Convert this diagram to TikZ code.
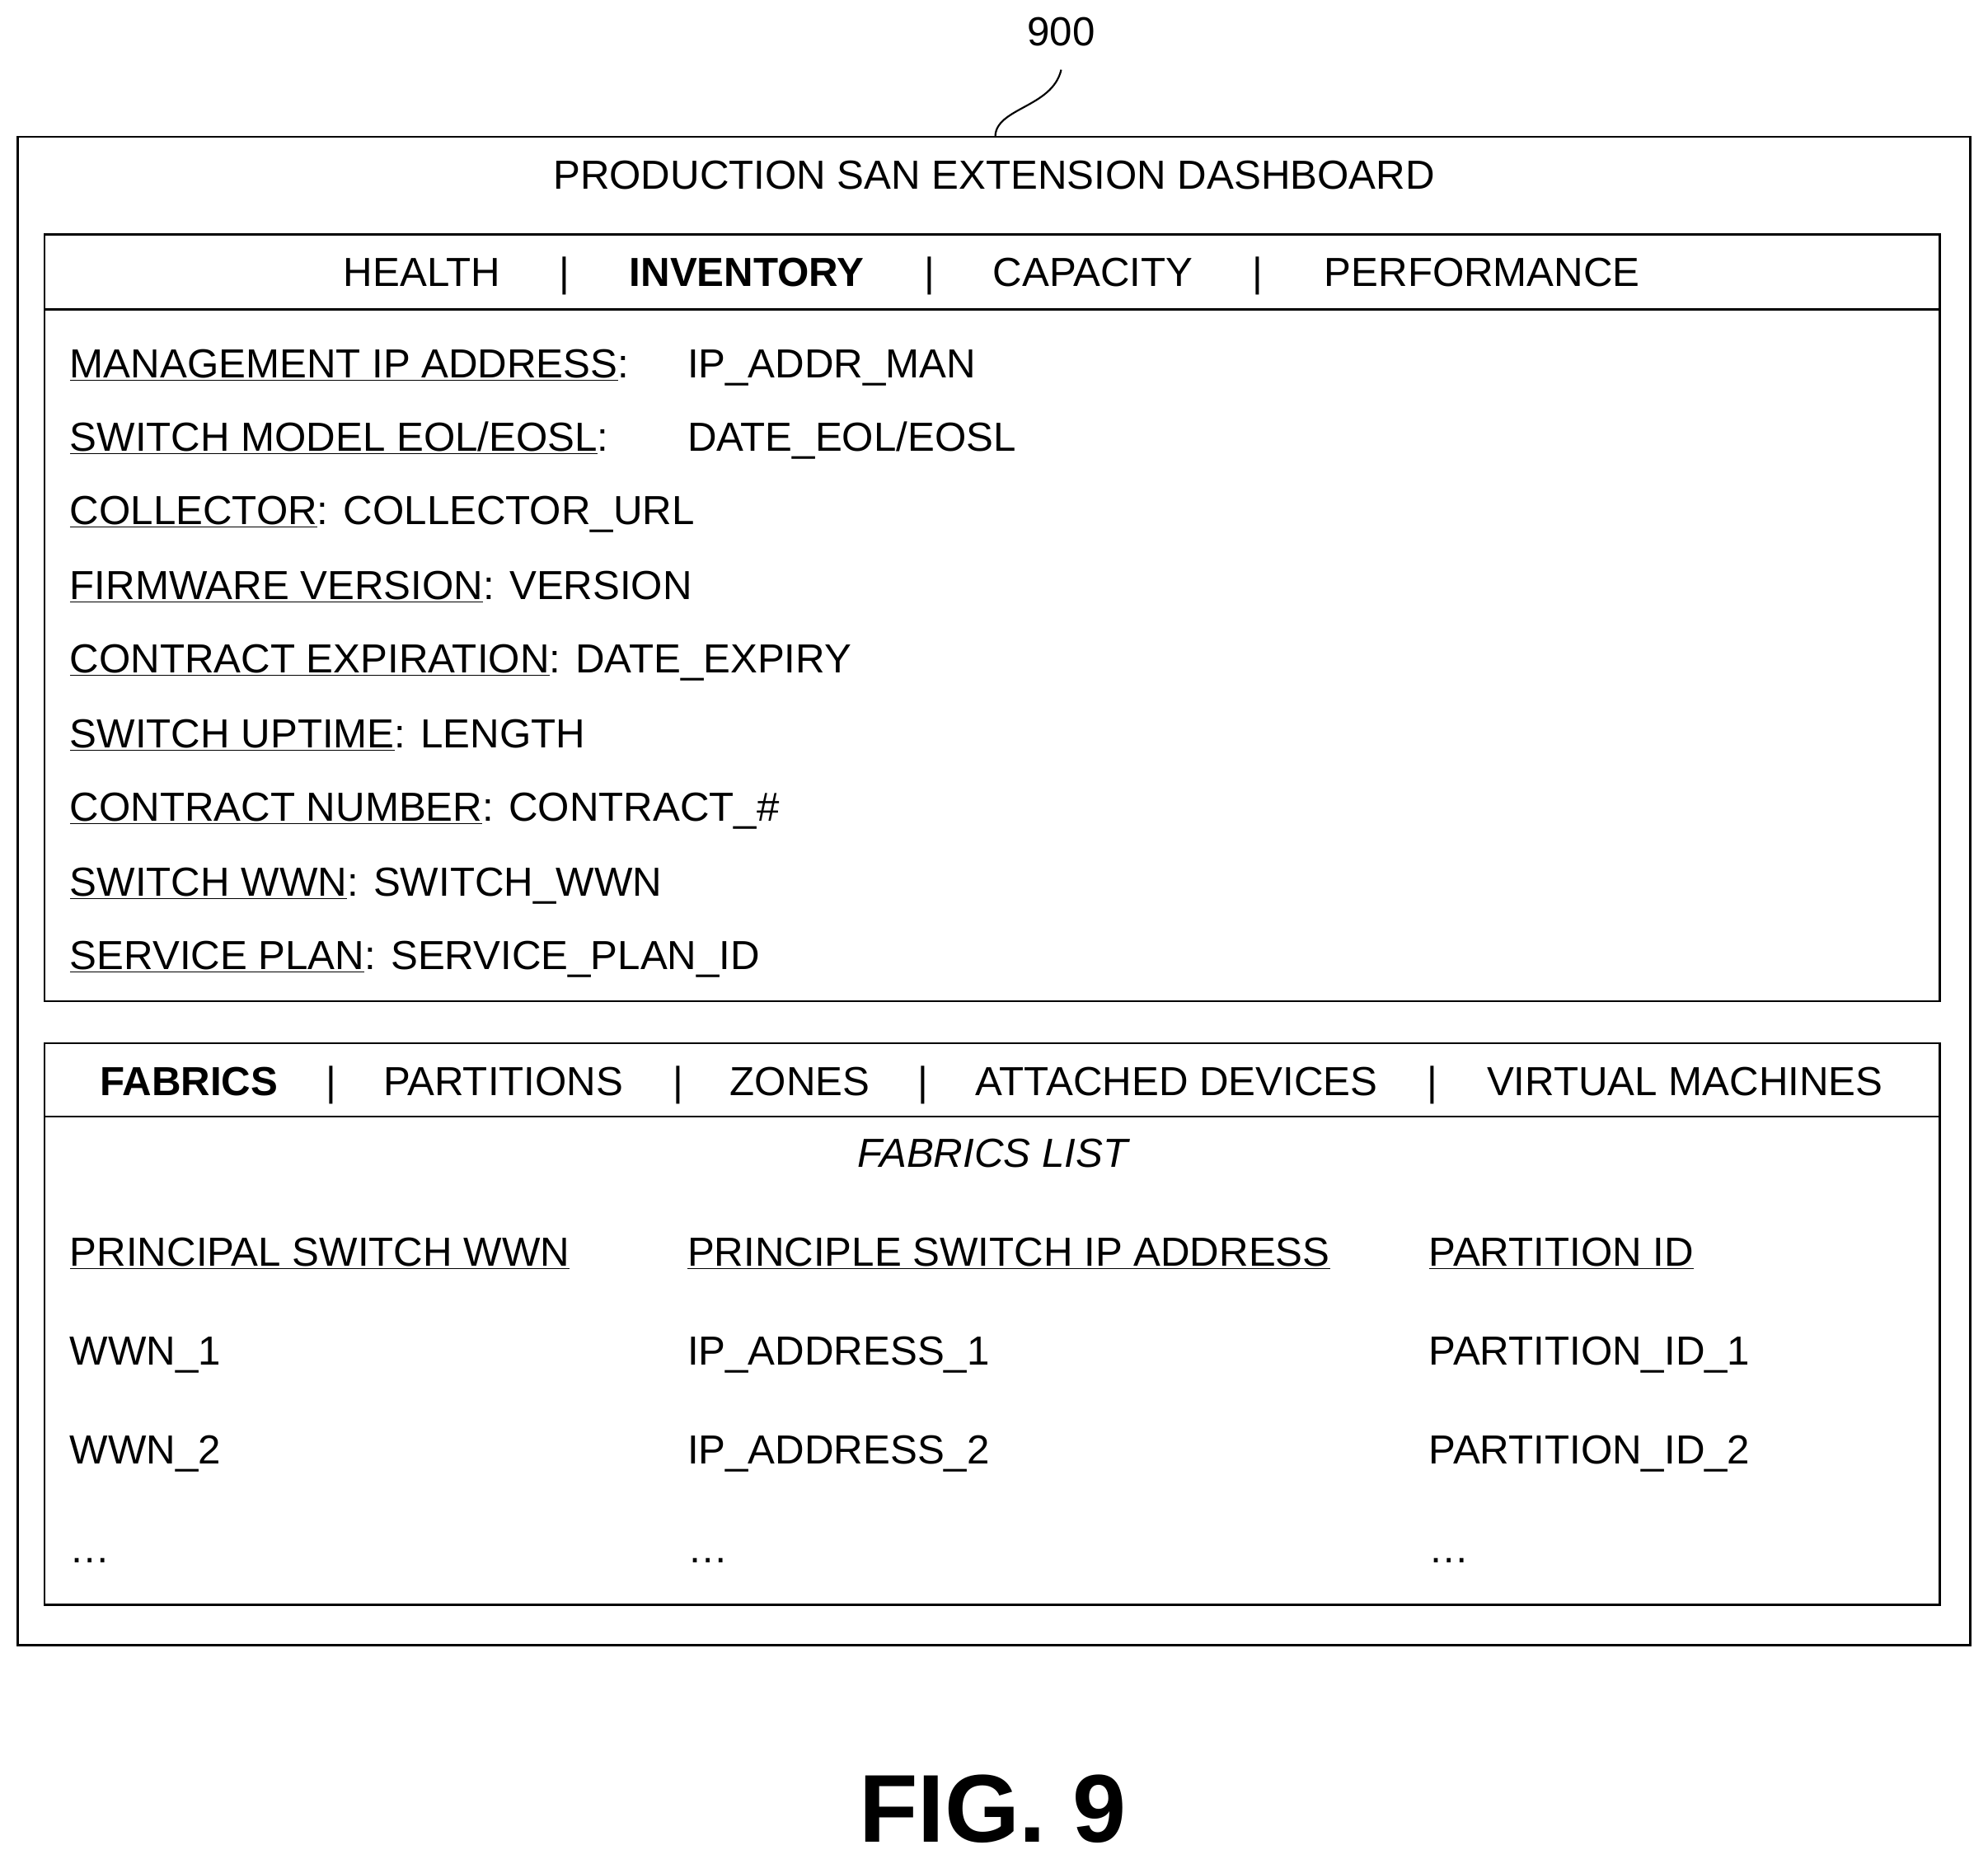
\documentclass[tikz,border=0pt]{standalone}
\usepackage{fontspec}
\setmainfont{Liberation Sans}
\begin{document}
\begin{tikzpicture}[x=1pt,y=-1pt,
  txt/.style={inner sep=0pt,anchor=base,font=\fontsize{32}{38}\selectfont},
  lt/.style={txt,anchor=base west},
  box/.style={draw,line width=1.6pt}]
\useasboundingbox (0,0) rectangle (1568,1466);
\draw[box] (14,108) rectangle (1554,1298);
\coordinate (outertop) at (785,108);
\node[txt] (ref) at (837,36) {900};
\draw[line width=1.4pt] (outertop) .. controls (785,85) and (830,85) .. (837,55);
\node[txt] (title) at (784,149) {PRODUCTION SAN EXTENSION DASHBOARD};
% box 1
\draw[box] (35,185) rectangle (1530,790);
\draw[box] (35,244) -- (1530,244);
\node[txt] (t1) at (333,226) {HEALTH};
\node[txt] (s1) at (445,226) {|};
\node[txt,font=\fontsize{32}{38}\selectfont\bfseries] (t2) at (589,226) {INVENTORY};
\node[txt] (s2) at (733,226) {|};
\node[txt] (t3) at (862,226) {CAPACITY};
\node[txt] (s3) at (992,226) {|};
\node[txt] (t4) at (1169,226) {PERFORMANCE};
\node[lt] (r1) at (55,298) {\underline{MANAGEMENT IP ADDRESS}:};
\node[lt] (v1) at (542,298) {IP\_ADDR\_MAN};
\node[lt] (r2) at (55,356) {\underline{SWITCH MODEL EOL/EOSL}:};
\node[lt] (v2) at (542,356) {DATE\_EOL/EOSL};
\node[lt] (r3) at (55,414) {\underline{COLLECTOR}: COLLECTOR\_URL};
\node[lt] (r4) at (55,473) {\underline{FIRMWARE VERSION}: VERSION};
\node[lt] (r5) at (55,531) {\underline{CONTRACT EXPIRATION}: DATE\_EXPIRY};
\node[lt] (r6) at (55,590) {\underline{SWITCH UPTIME}: LENGTH};
\node[lt] (r7) at (55,648) {\underline{CONTRACT NUMBER}: CONTRACT\_\#};
\node[lt] (r8) at (55,707) {\underline{SWITCH WWN}: SWITCH\_WWN};
\node[lt] (r9) at (55,765) {\underline{SERVICE PLAN}: SERVICE\_PLAN\_ID};
% box 2
\draw[box] (35,823) rectangle (1530,1266);
\draw[box] (35,881) -- (1530,881);
\node[txt,font=\fontsize{32}{38}\selectfont\bfseries] (u1) at (149,864) {FABRICS};
\node[txt] (p1) at (261,864) {|};
\node[txt] (u2) at (397,864) {PARTITIONS};
\node[txt] (p2) at (535,864) {|};
\node[txt] (u3) at (631,864) {ZONES};
\node[txt] (p3) at (728,864) {|};
\node[txt] (u4) at (928,864) {ATTACHED DEVICES};
\node[txt] (p4) at (1130,864) {|};
\node[txt] (u5) at (1329,864) {VIRTUAL MACHINES};
\node[txt,font=\fontsize{32}{38}\selectfont\itshape] (fl) at (783,921) {FABRICS LIST};
\node[lt] (h1) at (55,999) {\underline{PRINCIPAL SWITCH WWN}};
\node[lt] (h2) at (542,999) {\underline{PRINCIPLE SWITCH IP ADDRESS}};
\node[lt] (h3) at (1127,999) {\underline{PARTITION ID}};
\node[lt] (a1) at (55,1077) {WWN\_1};
\node[lt] (b1) at (542,1077) {IP\_ADDRESS\_1};
\node[lt] (c1) at (1127,1077) {PARTITION\_ID\_1};
\node[lt] (a2) at (55,1155) {WWN\_2};
\node[lt] (b2) at (542,1155) {IP\_ADDRESS\_2};
\node[lt] (c2) at (1127,1155) {PARTITION\_ID\_2};
\node[lt] (a3) at (55,1233) {\dots};
\node[lt] (b3) at (542,1233) {\dots};
\node[lt] (c3) at (1127,1233) {\dots};
\node[inner sep=0pt,anchor=base,font=\fontsize{76}{80}\selectfont\bfseries] (fig) at (783,1453) {FIG. 9};
\end{tikzpicture}
\end{document}
